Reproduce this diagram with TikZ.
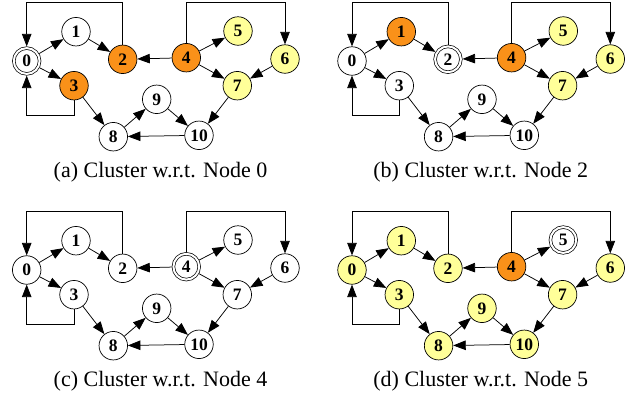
\documentclass[tikz,border=0pt]{standalone}
\usepackage{fontspec}
\setmainfont{Liberation Serif}
\usetikzlibrary{arrows.meta}
\definecolor{orng}{RGB}{250,145,25}
\definecolor{ylw}{RGB}{255,255,153}
\tikzset{
  vtx/.style={circle, draw, line width=0.7pt, minimum size=28.5pt, inner sep=0pt,
    font=\fontsize{17.5}{17.5}\selectfont\bfseries},
  wn/.style={fill=white},
  orn/.style={fill=orng},
  yel/.style={fill=ylw},
  refn/.style={fill=white, double, double distance=2pt, minimum size=25.8pt, outer sep=1.7pt},
  edge/.style={line width=0.75pt, -{Triangle[length=12.5pt,width=9.5pt]}},
  capt/.style={anchor=base, font=\fontsize{22}{22}\selectfont, inner sep=0pt},
}
\def\cpxs{{26.7,76,122.7,74,186.3,238,285,237.3,113.3,156.7,199}}
\def\cpys{{61,31.7,59.3,85.7,57.7,31,59,85.7,136.7,99.3,135.3}}
\newcommand\clpanel[7]{%
  \begin{scope}[shift={(#2,#3)}]
    \foreach \n/\s in {#5}{
      \node[vtx,\s] (#1\n) at ({\cpxs[\n]},{\cpys[\n]}) {\n};
    }
    \coordinate (#1T) at (0,2.7);
    \coordinate (#1B) at (0,115);
    \draw[edge] (#10) -- (#11);
    \draw[edge] (#10) -- (#13);
    \draw[edge] (#11) -- (#12);
    \draw[edge] (#14) -- (#12);
    \draw[edge] (#14) -- (#15);
    \draw[edge] (#14) -- (#17);
    \draw[edge] (#16) -- (#17);
    \draw[edge] (#17) -- (#110);
    \draw[edge] (#13) -- (#18);
    \draw[edge] (#18) -- (#19);
    \draw[edge] (#19) -- (#110);
    \draw[edge] (#110) -- (#18);
    \draw[edge] (#12.north) -- (#12.north |- #1T) -| (#10.north);
    \draw[edge] (#13.south) -- (#13.south |- #1B) -| (#10.south);
    \draw[edge] (#14.north) -- (#14.north |- #1T) -| (#16.north);
  \end{scope}
  \node[capt] (#1cap) at (#6,#7) {#4};
}
\begin{document}
\begin{tikzpicture}[x=1pt,y=-1pt]
  \useasboundingbox[fill=white] (0,0) rectangle (641,397);
  \clpanel{a}{0}{0}{(a) Cluster w.r.t. Node 0}
    {0/refn,1/wn,2/orn,3/orn,4/orn,5/yel,6/yel,7/yel,8/wn,9/wn,10/wn}{160.5}{177.5}
  \clpanel{b}{325.3}{0}{(b) Cluster w.r.t. Node 2}
    {0/wn,1/orn,2/refn,3/wn,4/orn,5/yel,6/yel,7/yel,8/wn,9/wn,10/wn}{480.8}{177.5}
  \clpanel{c}{0}{209}{(c) Cluster w.r.t. Node 4}
    {0/wn,1/wn,2/wn,3/wn,4/refn,5/wn,6/wn,7/wn,8/wn,9/wn,10/wn}{160.5}{386.5}
  \clpanel{d}{325.3}{209}{(d) Cluster w.r.t. Node 5}
    {0/yel,1/yel,2/yel,3/yel,4/orn,5/refn,6/yel,7/yel,8/yel,9/yel,10/yel}{480.8}{386.5}
\end{tikzpicture}
\end{document}
